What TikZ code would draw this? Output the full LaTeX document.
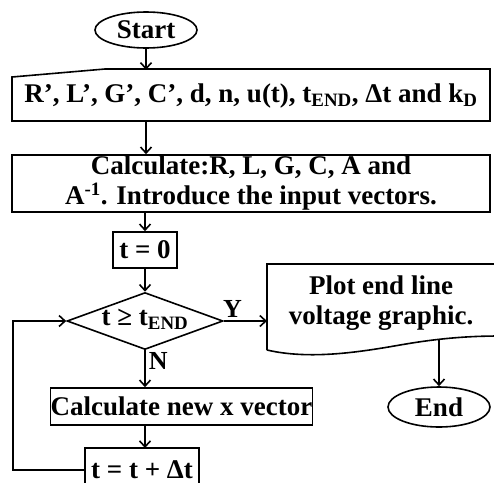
\documentclass[tikz,border=0pt]{standalone}
\usepackage{fontspec}
\setmainfont{Liberation Serif}
\usetikzlibrary{shapes.geometric,arrows.meta,calc}
\begin{document}
\begin{tikzpicture}[x=1pt,y=-1pt,
  every node/.style={font=\bfseries\fontsize{27}{30}\selectfont, inner sep=0pt},
  ln/.style={line width=1.6pt},
  arr/.style={ln,-{Straight Barb[length=6pt,width=11pt,line width=1.6pt]}},
  term/.style={ln,draw,ellipse},
  proc/.style={ln,draw,rectangle,align=center},
  lbl/.style={font=\bfseries\fontsize{26}{28}\selectfont}]
\useasboundingbox (0,0) rectangle (494,482);
\clip (0,0) rectangle (494,482);
% Start
\node[term,minimum width=102pt,minimum height=36pt] (start) at (146,30) {Start};
% Input (manual input shape)
\node[minimum width=478pt,minimum height=52pt] (inp) at (251,96) {R’, L’, G’, C’, d, n, u(t), t\textsubscript{END}, Δt and k\textsubscript{D}};
\draw[ln] (12,77) -- (105,69) -- (490,69) -- (490,121) -- (12,121) -- cycle;
% Calculate
\node[proc,minimum width=478pt,minimum height=57pt] (calc) at (251,183.5) {Calculate:R, L, G, C, A and\\A\textsuperscript{-1}. Introduce the input vectors.};
% t = 0
\node[proc,minimum width=64pt,minimum height=36pt] (t0) at (145,250) {t = 0};
% decision
\node[ln,draw,diamond,minimum width=156pt,minimum height=57pt] (dia) at (145,321) {};
\node (diat) at (145,319) {t ≥ t\textsubscript{END}};
% Plot (document shape)
\node[align=center] (plot) at (381,303) {Plot end line\\voltage graphic.};
\draw[ln] (267,350) -- (267,264) -- (500,264) -- (500,336)
  .. controls (470,336) and (440,338) .. (400,345)
  .. controls (360,352) and (310,360) .. (267,350);
\coordinate (plotb) at (439,340);
% End
\node[term,minimum width=102pt,minimum height=40pt] (end) at (439,407) {End};
% Calculate new x vector
\node[proc,minimum width=227pt,minimum height=37pt] (newx) at (181.5,406.5) {Calculate new x vector};
% t = t + dt
\node[anchor=base] (tinc) at (142,478) {t = t + Δt};
\draw[ln] (85,500) -- (85,448) -- (199,448) -- (199,500);
\coordinate (tincn) at (145,448);
\coordinate (tincw) at (85,470);
% connectors
\draw[arr] (start.south) -- (start.south |- inp.north);
\draw[arr] (start.south |- inp.south) -- (start.south |- calc.north);
\draw[arr] (t0.north |- calc.south) -- (t0.north);
\draw[arr] (t0.south) -- (dia.north);
\draw[arr] (dia.east) -- (dia.east -| 267,0) node[lbl,pos=0.2,above=3pt] (y) {Y};
\draw[arr] (dia.south) -- (dia.south |- newx.north) node[lbl,pos=0.3,right=3pt] (n) {N};
\draw[arr] (dia.south |- newx.south) -- (tincn);
\draw[arr] (tincw) -- (13,470) |- (dia.west);
\draw[arr] (plotb) -- (end.north);
\end{tikzpicture}
\end{document}
